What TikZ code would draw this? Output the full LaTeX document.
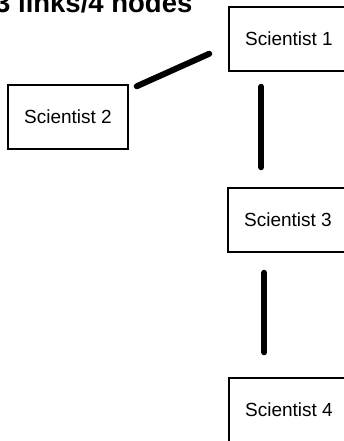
\documentclass[tikz,border=0pt]{standalone}
\usepackage{fontspec}
\setmainfont{Liberation Sans}
\usepackage{amsmath,amssymb}

\tikzset{
  sbox/.style={draw, line width=1.5pt, minimum width=120pt, minimum height=64pt,
    inner sep=0pt, font=\fontsize{19}{22}\selectfont},
  link/.style={line width=6pt, line cap=round}
}

\begin{document}
\begin{tikzpicture}[x=1pt, y=-1pt]
  \useasboundingbox (0,0) rectangle (344,441);
  \node (TITLE) [anchor=base west, inner sep=0pt, font=\fontsize{27.5}{30}\selectfont\bfseries] at (-5,13) {3 links/4 nodes};
  \node (S1) [sbox] at (289,39) {Scientist 1};
  \node (S2) [sbox] at (68,117) {Scientist 2};
  \node (S3) [sbox] at (288,220) {Scientist 3};
  \node (S4) [sbox] at (289,410) {Scientist 4};
  \draw[link] ([shift={(8pt,-2pt)}]S2.north east) -- ([shift={(-19pt,18pt)}]S1.south west);
  \draw[link, shorten <=15pt, shorten >=20pt] ([xshift=33pt]S1.south west) -- ([xshift=34pt]S3.north west);
  \draw[link, shorten <=20pt, shorten >=25pt] ([xshift=37pt]S3.south west) -- ([xshift=36pt]S4.north west);
\end{tikzpicture}
\end{document}
